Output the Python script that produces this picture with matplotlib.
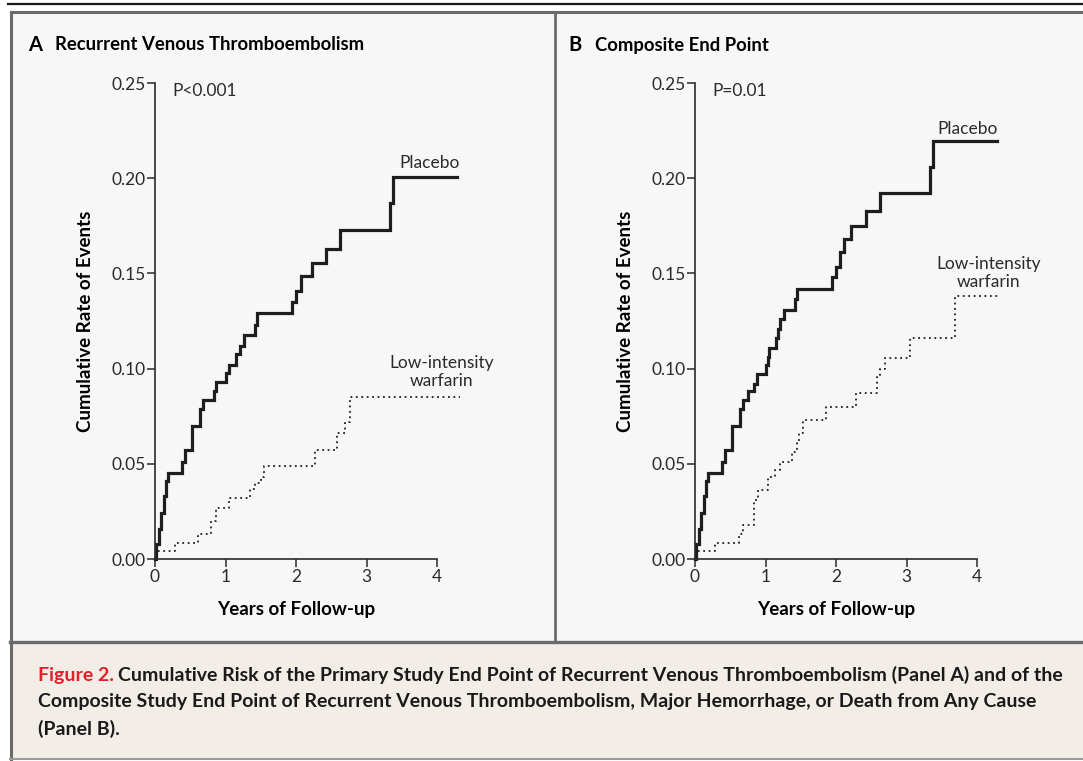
import matplotlib.pyplot as plt
from matplotlib.patches import Rectangle
from matplotlib.lines import Line2D

# DATA - step times (years) and cumulative rates
# Panel A - recurrent venous thromboembolism
a_placebo_t = [0, 0.02, 0.06, 0.09, 0.13, 0.16, 0.19, 0.38, 0.42, 0.52, 0.64, 0.68, 0.83, 0.87,
               1.01, 1.05, 1.15, 1.21, 1.26, 1.42, 1.45, 1.95, 2.0, 2.07, 2.22, 2.43, 2.62, 3.34, 3.38, 4.28]
a_placebo_y = [0, 0.008, 0.016, 0.024, 0.033, 0.041, 0.045, 0.051, 0.057, 0.070, 0.079, 0.0835, 0.088, 0.093,
               0.0975, 0.102, 0.1075, 0.112, 0.1177, 0.123, 0.129, 0.135, 0.141, 0.1486, 0.1553, 0.163, 0.1728,
               0.187, 0.2005, 0.2005]
a_warf_t = [0, 0.02, 0.28, 0.61, 0.80, 0.86, 1.05, 1.35, 1.42, 1.51, 1.54, 2.27, 2.58, 2.70, 2.77, 4.32]
a_warf_y = [0, 0.004, 0.0086, 0.013, 0.020, 0.0266, 0.032, 0.037, 0.040, 0.043, 0.049, 0.057, 0.066,
            0.072, 0.0853, 0.0853]

# Panel B - composite end point
b_placebo_t = [0, 0.02, 0.06, 0.09, 0.13, 0.16, 0.19, 0.38, 0.42, 0.52, 0.64, 0.68, 0.75, 0.84, 0.88,
               1.0, 1.03, 1.05, 1.15, 1.18, 1.21, 1.26, 1.42, 1.45, 1.95, 2.0, 2.06, 2.12, 2.21, 2.43,
               2.62, 3.34, 3.38, 4.28]
b_placebo_y = [0, 0.008, 0.016, 0.024, 0.033, 0.041, 0.045, 0.051, 0.057, 0.070, 0.079, 0.0835, 0.088,
               0.092, 0.097, 0.102, 0.106, 0.111, 0.116, 0.121, 0.126, 0.131, 0.1366, 0.142, 0.148, 0.1535,
               0.161, 0.168, 0.175, 0.183, 0.192, 0.206, 0.2195, 0.2195]
b_warf_t = [0, 0.02, 0.28, 0.62, 0.68, 0.83, 0.90, 1.04, 1.13, 1.2, 1.38, 1.44, 1.48, 1.53, 1.86, 2.28,
            2.58, 2.62, 2.69, 3.05, 3.69, 4.33]
b_warf_y = [0, 0.004, 0.0086, 0.013, 0.0176, 0.031, 0.036, 0.043, 0.047, 0.051, 0.056, 0.0616, 0.066,
            0.073, 0.080, 0.0874, 0.0966, 0.100, 0.1054, 0.116, 0.138, 0.138]

x_ticks = [0, 1, 2, 3, 4]
y_ticks = [0.0, 0.05, 0.10, 0.15, 0.20, 0.25]
y_ticklabels = ['0.00', '0.05', '0.10', '0.15', '0.20', '0.25']

panels = [
    ('A', 'Recurrent Venous Thromboembolism', 'P<0.001', a_placebo_t, a_placebo_y, a_warf_t, a_warf_y,
     (3.9, 0.208), (4.06, 0.098)),
    ('B', 'Composite End Point', 'P=0.01', b_placebo_t, b_placebo_y, b_warf_t, b_warf_y,
     (3.86, 0.226), (4.16, 0.150)),
]

caption_red = 'Figure 2.'
caption_lines = [
    'Cumulative Risk of the Primary Study End Point of Recurrent Venous Thromboembolism (Panel A) and of the',
    'Composite Study End Point of Recurrent Venous Thromboembolism, Major Hemorrhage, or Death from Any Cause',
    '(Panel B).',
]

FONT = 'Lato'
W, H = 1083, 761
fig = plt.figure(figsize=(W / 100, H / 100), dpi=100)
fig.patch.set_facecolor('white')


def px(x, y):
    # pixel coords (top-left origin) -> figure fraction
    return x / W, 1 - y / H


# background boxes (kept under the axes)
fig.patches.append(Rectangle(px(10, 641), (W - 10) / W, 630 / H, transform=fig.transFigure,
                             facecolor='#f7f7f7', edgecolor='none', zorder=-2))
fig.patches.append(Rectangle(px(10, 759), (W - 10) / W, 117 / H, transform=fig.transFigure,
                             facecolor='#f2ede7', edgecolor='none', zorder=-2))
# frame lines
fig.lines.append(Line2D([8 / W, 1], [1 - 4 / H] * 2, transform=fig.transFigure, color='#1a1a1a', lw=1.6))
fig.lines.append(Line2D([10.5 / W, 1], [1 - 12 / H] * 2, transform=fig.transFigure, color='#6a6a6a', lw=2.2))
fig.lines.append(Line2D([11 / W] * 2, [1 - 12 / H, 1 - 759 / H], transform=fig.transFigure, color='#6a6a6a', lw=2.2))
fig.lines.append(Line2D([10 / W, 1], [1 - 641.5 / H] * 2, transform=fig.transFigure, color='#6a6a6a', lw=2.4))
fig.lines.append(Line2D([554.5 / W] * 2, [1 - 12 / H, 1 - 641 / H], transform=fig.transFigure, color='#6a6a6a', lw=2.0))
fig.lines.append(Line2D([10 / W, 1], [1 - 759 / H] * 2, transform=fig.transFigure, color='#9a9a9a', lw=1.5))

ax_lefts = [155, 695]
for (letter, title, ptxt, pt, py, wt, wy, plac_pos, warf_pos), left in zip(panels, ax_lefts):
    ax = fig.add_axes([left / W, (H - 559) / H, 282 / W, 476 / H])
    ax.set_facecolor('none')
    ax.step(pt, py, where='post', color='#1e1e1e', lw=2.3, clip_on=False, solid_joinstyle='miter')
    ax.step(wt, wy, where='post', color='#1e1e1e', lw=1.3, ls=(0, (1, 2)), clip_on=False)
    ax.set_xlim(0, 4)
    ax.set_ylim(0, 0.25)
    for s in ['top', 'right']:
        ax.spines[s].set_visible(False)
    for s in ['left', 'bottom']:
        ax.spines[s].set_linewidth(1.2)
        ax.spines[s].set_color('#2a2a2a')
    ax.set_xticks(x_ticks)
    ax.set_yticks(y_ticks)
    ax.set_yticklabels(y_ticklabels)
    ax.tick_params(direction='out', length=6, width=1.1, color='#2a2a2a', labelsize=12.5,
                   labelcolor='#2a2a2a', pad=1)
    for lab in ax.get_xticklabels() + ax.get_yticklabels():
        lab.set_family(FONT)
    ax.set_xlabel('Years of Follow-up', fontsize=13.5, fontweight='bold', family=FONT, labelpad=12)
    ax.set_ylabel('Cumulative Rate of Events', fontsize=13.5, fontweight='bold', family=FONT, labelpad=12)
    ax.text(0.24, 0.246, ptxt, fontsize=12.5, family=FONT, color='#2a2a2a', va='center')
    ax.text(plac_pos[0], plac_pos[1], 'Placebo', fontsize=12.5, family=FONT, color='#2a2a2a',
            ha='center', va='center', clip_on=False)
    ax.text(warf_pos[0], warf_pos[1], 'Low-intensity\nwarfarin', fontsize=12.5, family=FONT,
            color='#2a2a2a', ha='center', va='center', linespacing=1.15, clip_on=False)
    # panel title
    tx = left - 127
    fig.text(tx / W, 1 - 45 / H, letter, fontsize=14.5, fontweight='bold', family=FONT, va='center')
    fig.text((tx + 27) / W, 1 - 45 / H, title, fontsize=13.3, fontweight='bold', family=FONT, va='center')

# caption
t_red = fig.text(38 / W, 1 - 675 / H, caption_red, fontsize=14, fontweight='bold', family=FONT,
                 color='#e3202a', va='center')
fig.canvas.draw()
bb = t_red.get_window_extent()
fig.text((bb.x1 + 4) / W, 1 - 675 / H, caption_lines[0], fontsize=14, fontweight='bold', family=FONT,
         color='#1a1a1a', va='center')
for i, line in enumerate(caption_lines[1:]):
    fig.text(38 / W, 1 - (702 + 27 * i) / H, line, fontsize=14, fontweight='bold', family=FONT,
             color='#1a1a1a', va='center')

fig.savefig('out.png', dpi=100)
